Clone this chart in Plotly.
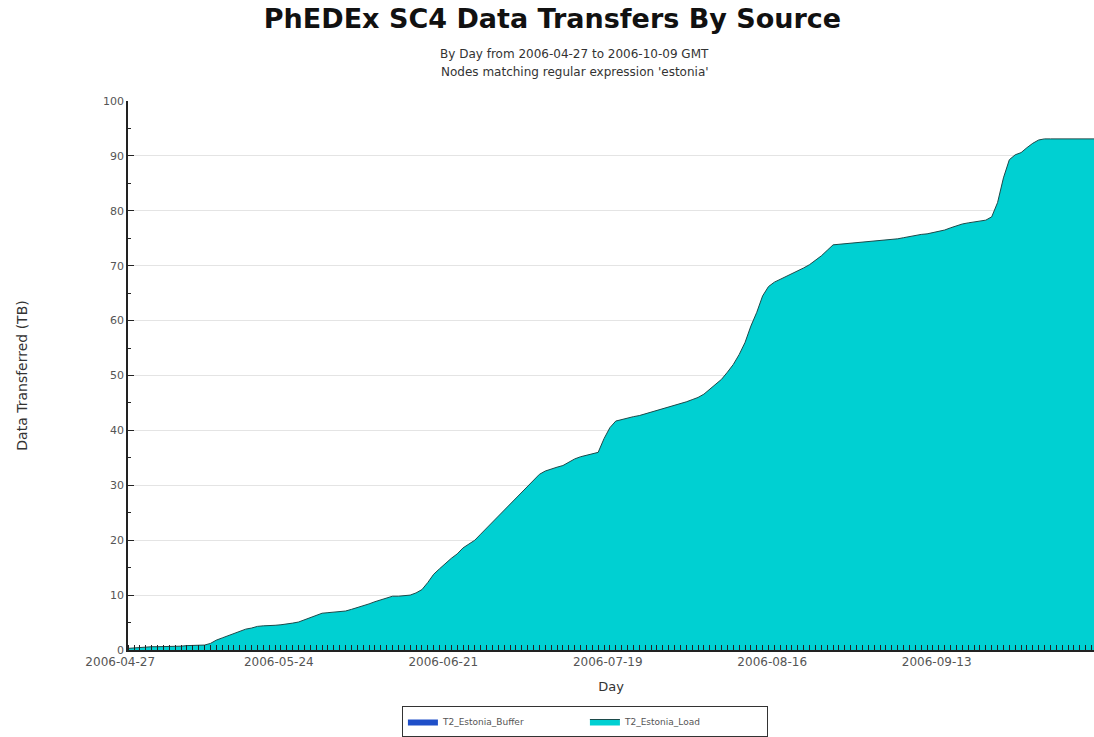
import plotly.graph_objects as go
import pandas as pd

# --- data: cumulative transfers per day ---
days = pd.date_range("2006-04-27", "2006-10-09", freq="D")

estonia_load = [
    0.3, 0.4, 0.5, 0.5, 0.6, 0.6, 0.6, 0.7, 0.7, 0.7,
    0.8, 0.8, 0.8, 0.9, 1.2, 1.8, 2.2, 2.6, 3.1, 3.5,
    3.8, 4.0, 4.3, 4.4, 4.4, 4.5, 4.6, 4.7, 4.9, 5.1,
    5.5, 6.0, 6.4, 6.7, 6.8, 6.9, 7.0, 7.1, 7.4, 7.7,
    8.0, 8.4, 8.8, 9.1, 9.5, 9.8, 9.8, 9.9, 10.0, 10.4,
    11.0, 12.3, 13.8, 14.8, 15.8, 16.7, 17.5, 18.6, 19.3, 20.0,
    21.1, 22.2, 23.3, 24.4, 25.5, 26.6, 27.6, 28.7, 29.9, 31.0,
    32.0, 32.6, 33.0, 33.3, 33.6, 34.2, 34.8, 35.2, 35.5, 35.8,
    36.0, 38.5, 40.5, 41.7, 42.0, 42.2, 42.5, 42.7, 43.0, 43.3,
    43.6, 43.9, 44.3, 44.6, 44.9, 45.2, 45.6, 46.0, 46.6, 47.5,
    48.5, 49.3, 50.6, 52.0, 53.8, 56.0, 59.0, 61.5, 64.5, 66.2,
    67.0, 67.5, 68.0, 68.5, 69.0, 69.6, 70.2, 71.0, 71.8, 72.8,
    73.8, 73.9, 74.0, 74.1, 74.2, 74.2, 74.3, 74.4, 74.5, 74.6,
    74.7, 74.9, 75.1, 75.3, 75.6, 75.7, 75.8, 76.0, 76.2, 76.5,
    76.9, 77.3, 77.6, 77.8, 78.0, 78.2, 78.3, 78.9, 81.5, 86.0,
    89.3, 90.2, 90.6, 91.5, 92.3, 92.9, 93.1, 93.1, 93.1, 93.1,
    93.1, 93.1, 93.1, 93.1, 93.1, 93.1,
]
estonia_buffer = [0.0] * len(estonia_load)

tick_dates = ["2006-04-27", "2006-05-24", "2006-06-21", "2006-07-19", "2006-08-16", "2006-09-13"]
tick_labels = ["2006-04-27", "2006-05-24", "2006-06-21", "2006-07-19", "2006-08-16", "2006-09-13"]

fig = go.Figure()
fig.add_trace(go.Scatter(
    x=days, y=estonia_buffer, name="T2_Estonia_Buffer",
    stackgroup="one", mode="lines",
    line=dict(color="#1f4fc8", width=0), fillcolor="#1f4fc8",
))
fig.add_trace(go.Scatter(
    x=days, y=estonia_load, name="T2_Estonia_Load",
    stackgroup="one", mode="lines",
    line=dict(color="#1c4a4a", width=1), fillcolor="rgb(0,208,210)",
))

fig.update_layout(
    width=1094, height=737,
    margin=dict(l=128, r=0, t=101, b=86),
    paper_bgcolor="white", plot_bgcolor="white",
    font=dict(family="DejaVu Sans", color="#444"),
    title=dict(
        text="<b>PhEDEx SC4 Data Transfers By Source</b>",
        x=0.505, xanchor="center", xref="container",
        y=1 - 19 / 737, yanchor="middle", yref="container",
        font=dict(size=27, color="#111", family="DejaVu Sans"),
    ),
    showlegend=True,
    legend=dict(
        orientation="h", x=0.473, xanchor="center", y=-0.103, yanchor="top",
        bordercolor="#333", borderwidth=1, bgcolor="white",
        font=dict(size=9, color="#555"), itemwidth=30,
        entrywidth=137, traceorder="normal",
    ),
)

fig.add_annotation(
    text="By Day from 2006-04-27 to 2006-10-09 GMT",
    xref="paper", yref="paper", x=(574 - 128) / 966, y=(651 - 45) / 550,
    showarrow=False, font=dict(size=12, color="#333"),
)
fig.add_annotation(
    text="Nodes matching regular expression 'estonia'",
    xref="paper", yref="paper", x=(575 - 128) / 966, y=(651 - 63) / 550,
    showarrow=False, font=dict(size=12, color="#333"),
)

fig.update_xaxes(
    type="date",
    range=["2006-04-26 23:00", "2006-10-08 10:00"],
    tickvals=tick_dates, ticktext=tick_labels,
    ticklabelshift=-8, ticks="",
    tickfont=dict(size=12, color="#555"),
    showgrid=False, showline=True, linecolor="#222", linewidth=1.5,
    minor=dict(ticks="inside", dtick=86400000, tick0="2006-04-27",
               ticklen=5, tickcolor="#222", showgrid=False),
    title=dict(text="Day", font=dict(size=13, color="#333"), standoff=14),
)
fig.update_yaxes(
    range=[0, 100], dtick=10, tick0=0,
    ticks="inside", ticklen=6, tickcolor="#222",
    tickfont=dict(size=11, color="#555"),
    showgrid=True, gridcolor="#e4e4e4", gridwidth=1,
    showline=True, linecolor="#222", linewidth=1.5,
    zeroline=False,
    minor=dict(ticks="inside", dtick=5, ticklen=3, tickcolor="#222", showgrid=False),
    title=dict(text="Data Transferred (TB)", font=dict(size=14, color="#333"), standoff=72),
)

fig.write_html(
    "out.html",
    config={"displayModeBar": False},
    post_script="document.body.style.margin='0';document.body.style.overflow='hidden';",
)
